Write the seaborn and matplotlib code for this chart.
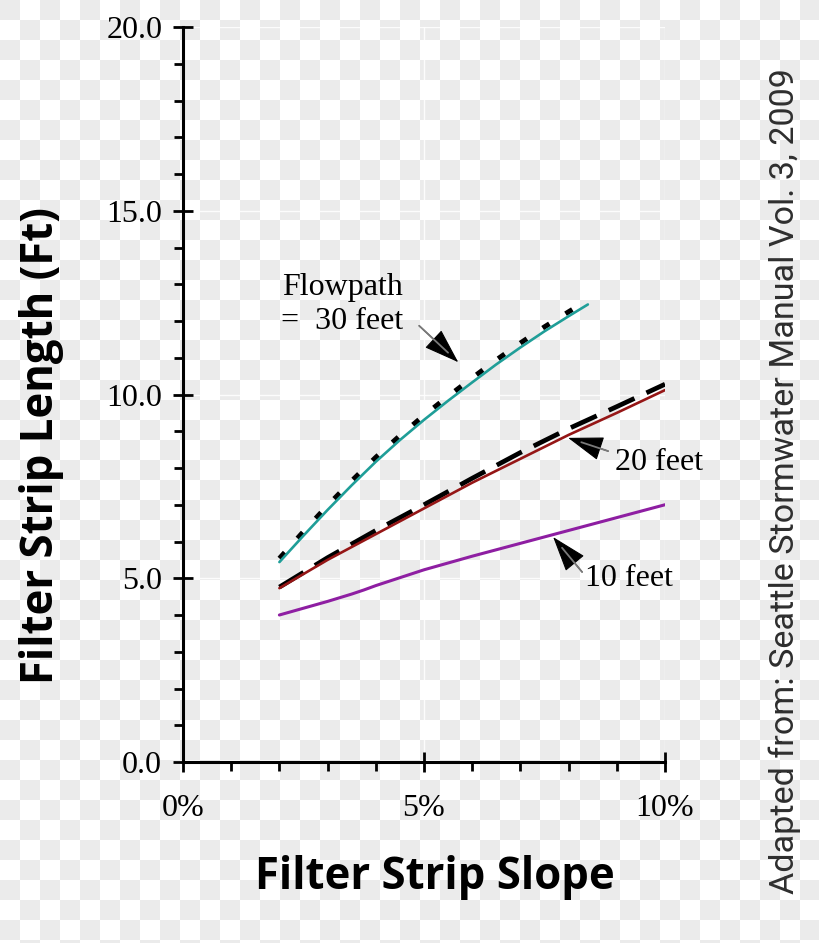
import numpy as np
import pandas as pd
import matplotlib
matplotlib.use("Agg")
import matplotlib.pyplot as plt
import seaborn as sns

# ---- data ----
slope_10 = [2.0, 3.0, 3.5, 3.75, 4.0, 5.0, 6.0, 7.0, 8.0, 9.0, 10.0]
length_10 = [4.0, 4.37, 4.57, 4.68, 4.8, 5.23, 5.6, 5.95, 6.3, 6.65, 7.0]

slope_20 = [2.0, 3.0, 4.0, 5.0, 6.0, 7.0, 8.0, 9.0, 10.0]
length_20 = [4.73, 5.5, 6.2, 6.9, 7.6, 8.25, 8.9, 9.5, 10.12]
length_20_ref = [4.76, 5.56, 6.3, 7.0, 7.72, 8.42, 9.07, 9.67, 10.28]

slope_30 = [2.0, 2.5, 3.0, 3.5, 4.0, 4.5, 5.0, 5.5, 6.0, 6.5, 7.0, 7.5, 8.0, 8.4]
length_30 = [5.44, 6.16, 6.86, 7.53, 8.17, 8.76, 9.31, 9.83, 10.33, 10.82, 11.28, 11.72, 12.13, 12.45]
length_30_ref = [5.54, 6.27, 6.98, 7.65, 8.29, 8.88, 9.43, 9.95, 10.45, 10.94, 11.4, 11.84, 12.25, 12.57]

x_ticks = [0, 5, 10]
x_tick_labels = ["0%", "5%", "10%"]
y_ticks = [0, 5, 10, 15, 20]
y_tick_labels = ["0.0", "5.0", "10.0", "15.0", "20.0"]

labels = ["Flowpath\n=  30 feet", "20 feet", "10 feet"]
label_xy = [(3.3, 12.45), (9.88, 8.16), (9.26, 5.0)]
arrow_tip = [(5.71, 10.88), (7.99, 8.82), (7.68, 6.12)]
arrow_tail = [(4.9, 11.87), (8.82, 8.46), (8.28, 5.17)]

# ---- figure ----
sns.set_theme(style="white")
W, H, DPI = 820, 943, 100
fig = plt.figure(figsize=(W / DPI, H / DPI), dpi=DPI, facecolor="white")

# checkerboard background
r, c = np.indices((H, W))
board = np.where(((r // 20) + (c // 20)) % 2 == 0, 0.925, 1.0)
rgb = np.dstack([board, board, board])
fig.figimage(rgb, xo=0, yo=0, origin="upper", zorder=-5)

ax = fig.add_axes([183 / W, 1 - 762 / H, (665 - 183) / W, (762 - 27) / H])
ax.set_facecolor("none")

df10 = pd.DataFrame({"slope": slope_10, "length": length_10})
df20 = pd.DataFrame({"slope": slope_20, "length": length_20})
df20r = pd.DataFrame({"slope": slope_20, "length": length_20_ref})
df30 = pd.DataFrame({"slope": slope_30, "length": length_30})
df30r = pd.DataFrame({"slope": slope_30, "length": length_30_ref})

# black dashed reference curves
sns.lineplot(data=df20r, x="slope", y="length", ax=ax, color="black",
             lw=3.4, zorder=2, estimator=None, sort=False)
ax.lines[-1].set_dashes([6.0, 2.8])
sns.lineplot(data=df30r, x="slope", y="length", ax=ax, color="black",
             lw=3.6, zorder=2, estimator=None, sort=False)
ax.lines[-1].set_dashes([1.6, 3.8])

# coloured curves
sns.lineplot(data=df30, x="slope", y="length", ax=ax, color="#1f9e98",
             lw=1.9, zorder=3, estimator=None, sort=False)
sns.lineplot(data=df20, x="slope", y="length", ax=ax, color="#951616",
             lw=1.9, zorder=3, estimator=None, sort=False)
sns.lineplot(data=df10, x="slope", y="length", ax=ax, color="#8e1ea2",
             lw=2.2, zorder=3, estimator=None, sort=False)

# annotations
serif = "Liberation Serif"
for txt, pos, tip, tail in zip(labels, label_xy, arrow_tip, arrow_tail):
    ax.text(pos[0], pos[1], txt, ha="center", va="center", fontsize=23,
            family=serif, color="black", linespacing=1.25, zorder=5)
    ax.annotate("", xy=tip, xytext=tail,
                arrowprops=dict(arrowstyle="-|>,head_length=1.9,head_width=0.65",
                                color="black", lw=0.8, shrinkA=0, shrinkB=0),
                zorder=5)
    ax.annotate("", xy=tip, xytext=tail,
                arrowprops=dict(arrowstyle="-", color="#7a7a7a", lw=1.3,
                                shrinkA=0, shrinkB=10), zorder=6)

# axes styling
ax.set_xlim(0, 10)
ax.set_ylim(0, 20)
for s in ["top", "right"]:
    ax.spines[s].set_visible(False)
for s in ["left", "bottom"]:
    ax.spines[s].set_linewidth(2.2)
    ax.spines[s].set_color("black")
ax.set_xticks(x_ticks)
ax.set_xticklabels(x_tick_labels)
ax.set_yticks(y_ticks)
ax.set_yticklabels(y_tick_labels)
ax.set_xticks(np.arange(0, 11, 1), minor=True)
ax.set_yticks(np.arange(0, 21, 1), minor=True)
ax.tick_params(axis="both", which="both", bottom=True, left=True,
               top=False, right=False)
ax.tick_params(axis="both", which="major", direction="inout", length=14,
               width=2.0, color="black", labelsize=23, labelcolor="black")
ax.tick_params(axis="y", which="major", pad=8)
ax.tick_params(axis="x", which="major", pad=16)
ax.tick_params(axis="both", which="minor", direction="out", length=6.5,
               width=2.0, color="black")
for lab in ax.get_xticklabels() + ax.get_yticklabels():
    lab.set_family(serif)
ax.grid(True, which="major", color="white", lw=1.0, alpha=0.9, zorder=0)
ax.set_axisbelow(True)

ax.set_xlabel("")
ax.set_ylabel("")
sans = "Open Sans"
fig.text(435 / W, 1 - 877 / H, "Filter Strip Slope", ha="center", va="center",
         fontsize=31.5, fontweight="bold", family=sans, color="black")
fig.text(42 / W, 1 - 445 / H, "Filter Strip Length (Ft)", ha="center", va="center",
         rotation=90, fontsize=31.5, fontweight="bold", family=sans, color="black")
fig.text(785 / W, 1 - 481 / H, "Adapted from: Seattle Stormwater Manual Vol. 3, 2009",
         ha="center", va="center", rotation=90, fontsize=24.6, fontweight="normal",
         family="Roboto", color="#2e2e2e")

fig.savefig("out.png", dpi=DPI, facecolor="white")
